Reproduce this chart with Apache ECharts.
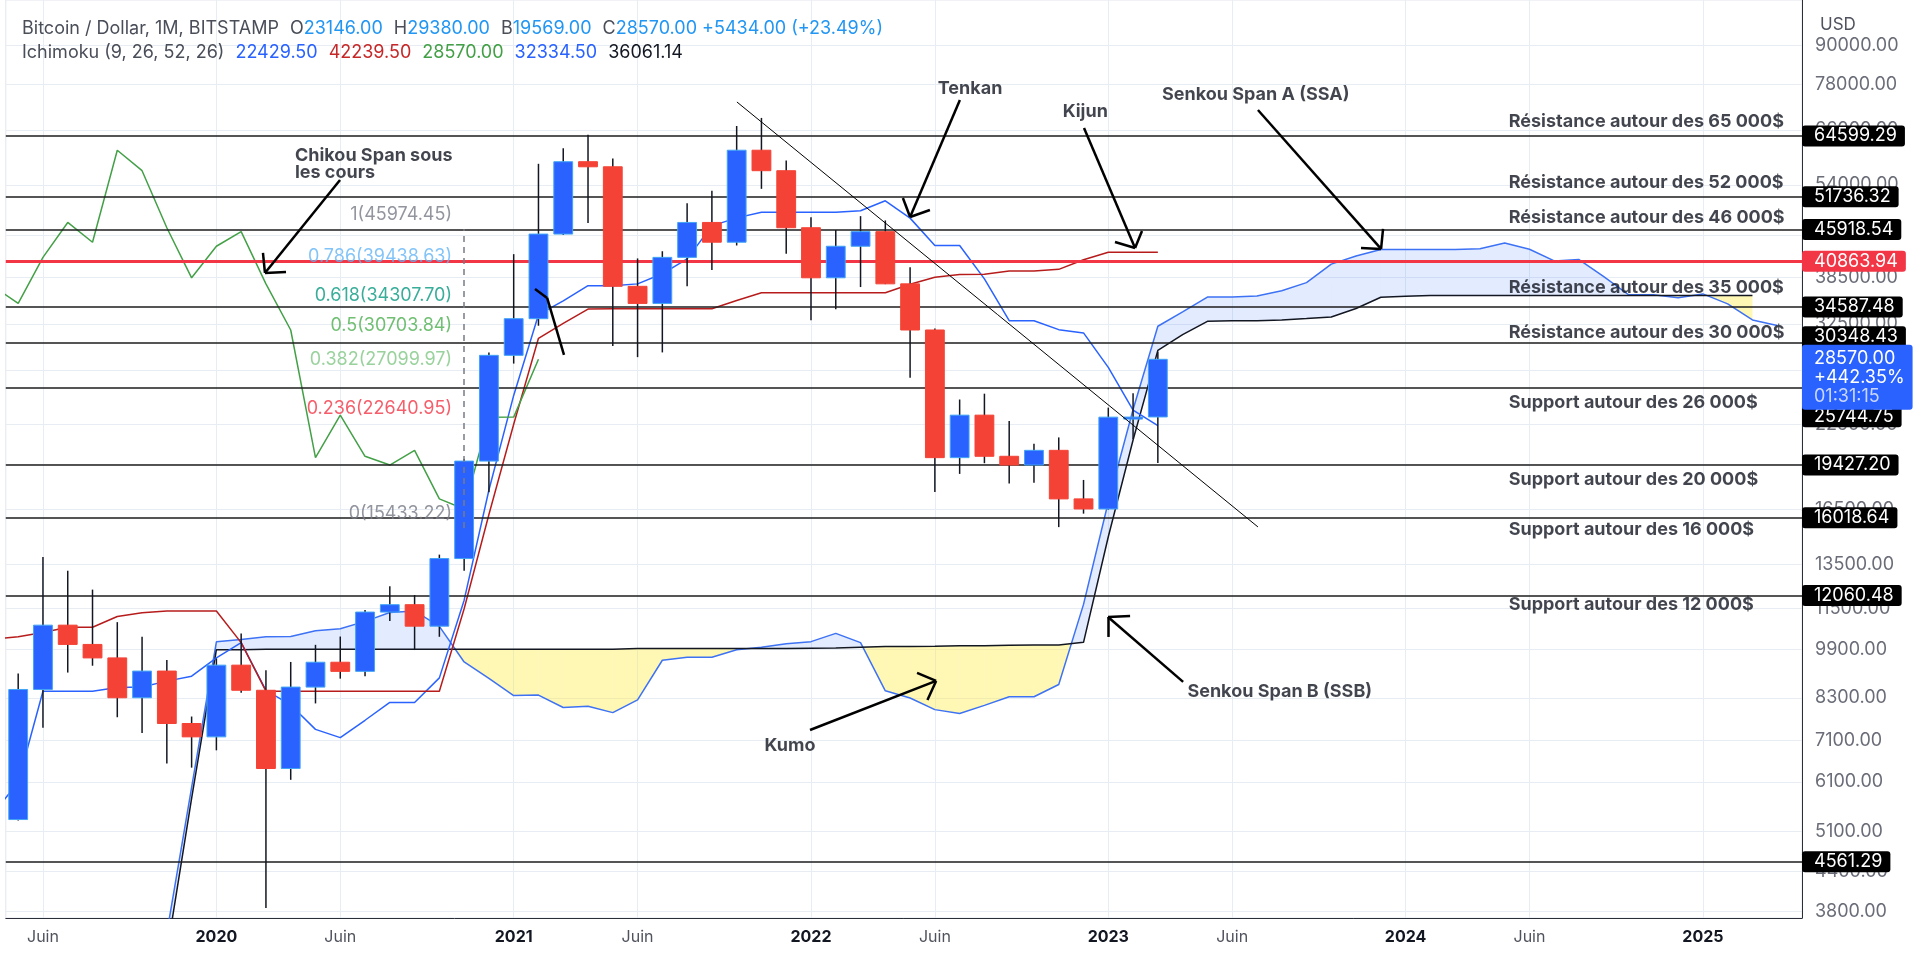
<!DOCTYPE html>
<html>
<head>
<meta charset="utf-8">
<title>Bitcoin / Dollar - Ichimoku</title>
<script src="https://cdn.jsdelivr.net/npm/echarts@6/dist/echarts.min.js"></script>
<style>
  html, body { margin: 0; padding: 0; background: #fff; }
  #chart { width: 1920px; height: 967px; }
</style>
</head>
<body>
<div id="chart"></div>
<script>
// monthly candles, index 0 = May 2019 ... 46 = Mar 2023
const opens = [5320, 8555, 10820, 10085, 9600, 8300, 9150, 7555, 7195, 9350, 8530, 6410, 8630, 9450, 9140, 11350, 11660, 10780, 13800, 19700, 28990, 33140, 45140, 58800, 57720, 37300, 35040, 41460, 47100, 43820, 61320, 56900, 46200, 38480, 43180, 45540, 37640, 31800, 19950, 23300, 20050, 19420, 20490, 17160, 16540, 23130, 23146]
const highs = [9070, 13880, 13200, 12320, 10940, 10370, 9530, 7750, 9580, 10500, 9180, 9460, 10070, 10380, 11440, 12470, 12080, 14000, 19860, 29300, 41950, 58350, 61780, 64900, 59500, 41300, 42400, 50500, 52900, 66990, 69000, 59050, 47990, 45800, 48200, 47450, 40000, 31980, 24670, 25200, 22800, 20990, 21480, 18390, 23950, 25250, 29380]
const lows = [5300, 7440, 9100, 9330, 7730, 7300, 6530, 6430, 6850, 8450, 3850, 6150, 8130, 8900, 8980, 10990, 9880, 10370, 13200, 17580, 28130, 32300, 45000, 47000, 30000, 28800, 29300, 37300, 39600, 43300, 53250, 42000, 32950, 34300, 37200, 37600, 26700, 17600, 18800, 19550, 18150, 18200, 15480, 16260, 16500, 21350, 19569]
const closes = [8555, 10820, 10085, 9600, 8300, 9150, 7555, 7195, 9350, 8530, 6410, 8630, 9450, 9140, 11350, 11660, 10780, 13800, 19700, 28990, 33140, 45140, 58800, 57720, 37300, 35040, 41460, 47100, 43820, 61320, 56900, 46200, 38480, 43180, 45540, 37640, 31800, 19950, 23300, 20050, 19420, 20490, 17160, 16540, 23130, 23136, 28570]

// ichimoku lines (tenkan / kijun / chikou start at index -1 = Apr 2019)
const lineStart = -1
const tenkan = [5441, 6096, 8501, 8501, 8501, 8615, 8635, 8820, 8980, 9605, 10155, 8525, 8085, 7395, 7175, 7645, 8160, 8160, 8925, 11855, 17725, 25040, 33625, 35380, 37390, 37390, 37635, 39050, 41240, 46515, 47895, 48900, 48900, 48900, 48900, 49150, 50975, 47850, 43300, 43300, 38325, 32900, 32900, 31840, 31465, 27740, 23730, 22429.5]
const kijun = [10280, 10375, 10535, 10740, 10740, 11170, 11320, 11396, 11396, 11396, 10151, 8501, 8501, 8501, 8501, 8501, 8501, 8501, 8501, 11491, 16211, 22536, 30850, 32585, 34330, 34375, 34375, 34375, 34375, 34375, 35420, 36425, 36425, 36425, 36425, 36425, 36425, 37575, 38565, 38950, 38990, 39440, 39440, 39685, 41100, 42239.5, 42239.5, 42239.5]
const chikou = [37300, 35040, 41460, 47100, 43820, 61320, 56900, 46200, 38480, 43180, 45540, 37640, 31800, 19950, 23300, 20050, 19420, 20490, 17160, 16540, 23130, 23136, 28570]
// senkou spans, index 0 = May 2019 ... 71 = Apr 2025
const senkouA = [885, 1576, 1695, 1714, 2624, 2726, 3514, 5981, 10180, 10272, 10375, 10379, 10603, 10679, 10972, 11331, 11396, 10773, 9458, 8906, 8366, 8381, 8011, 8046, 7861, 8236, 9518, 9621, 9621, 9893, 9978, 10108, 10188, 10501, 10153, 8513, 8293, 7948, 7838, 8073, 8331, 8331, 8713, 11673, 16968, 23788, 32238, 33983, 35860, 35883, 36005, 36713, 37808, 40445, 41658, 42663, 42663, 42663, 42663, 42788, 43700, 42713, 40933, 41125, 38658, 36170, 36170, 35763, 36283, 34990, 32985, 32334.5]
const senkouB = [726, 1390, 1512, 1520, 2423, 2523, 3268, 5746, 9894, 9895, 9911, 9911, 9911, 9911, 9911, 9911, 9911, 9911, 9911, 9911, 9911, 9911, 9911, 9911, 9911, 9933, 9933, 9933, 9933, 9933, 9933, 9933, 9948, 9952, 9985, 10008, 10010, 10018, 10035, 10038, 10054, 10067, 10067, 10162, 14945, 21278, 29515, 31260, 32825, 32895, 32895, 32990, 33150, 33355, 34400, 35835, 35985, 36061.14, 36061.14, 36061.14, 36061.14, 36061.14, 36061.14, 36061.14, 36061.14, 36061.14, 36061.14, 36061.14, 36061.14, 36061.14, 36061.14]

// x axis labels
const xTickIdx = [1, 8, 13, 20, 25, 32, 37, 44, 49, 56, 61, 68]
const xTickLabels = ['Juin', '2020', 'Juin', '2021', 'Juin', '2022', 'Juin', '2023', 'Juin', '2024', 'Juin', '2025']
// price scale labels
const yTicks = [90000, 78000, 66000, 54000, 45000, 38500, 32500, 27500, 22500, 19500, 16500, 13500, 11500, 9900, 8300, 7100, 6100, 5100, 4400, 3800]

// horizontal levels
const levels = [64599.29, 51736.32, 45918.54, 34587.48, 30348.43, 25744.75, 19427.20, 16018.64, 12060.48, 4561.29]
const keyLevel = 40863.94
const lastChangePct = '+442.35%'
const countdown = '01:31:15'

// fibonacci retracement
const fibRatios = ['1', '0.786', '0.618', '0.5', '0.382', '0.236', '0']
const fibPrices = [45974.45, 39438.63, 34307.70, 30703.84, 27099.97, 22640.95, 15433.22]
const fibAt = 18

// text drawings, anchored at [month index, price]
const levelNotes = [
  ['Résistance autour des 65 000$', 67980],
  ['Résistance autour des 52 000$', 54400],
  ['Résistance autour des 46 000$', 47880],
  ['Résistance autour des 35 000$', 37080],
  ['Résistance autour des 30 000$', 31460],
  ['Support autour des 26 000$', 24360],
  ['Support autour des 20 000$', 18390],
  ['Support autour des 16 000$', 15320],
  ['Support autour des 12 000$', 11650]
]
const levelNoteAt = 60.16
const notes = [
  { text: 'Tenkan', at: [38.42, 76700], align: 'center' },
  { text: 'Kijun', at: [43.07, 70510], align: 'center' },
  { text: 'Senkou Span A (SSA)', at: [49.95, 75030], align: 'center' },
  { text: 'Senkou Span B (SSB)', at: [50.92, 8480], align: 'center' },
  { text: 'Kumo', at: [31.15, 6960], align: 'center' },
  { text: 'Chikou Span sous\nles cours', at: [11.17, 58300], align: 'left' }
]
const arrows = [
  { from: [12.99, 55006], to: [9.96, 39163], arms: [[9.88, 42134], [10.81, 39307]] },
  { from: [38.01, 73675], to: [36.00, 48055], arms: [[35.71, 51510], [36.80, 49294]] },
  { from: [43.02, 66508], to: [45.08, 42906], arms: [[44.27, 43863], [45.36, 45660]] },
  { from: [50.04, 71034], to: [55.01, 42756], arms: [[54.20, 42906], [55.09, 45989]] },
  { from: [47.02, 8795], to: [43.99, 11148], arms: [[43.99, 10364], [44.88, 11190]] },
  { from: [31.96, 7377], to: [37.05, 8826], arms: [[36.28, 9088], [36.70, 8234]] },
  { from: [22.03, 29033], to: [21.35, 35748], arms: [[20.86, 36940]] }
]
const trendLine = [[29.01, 73136], [50.04, 15490]]

const FONT = 'Inter, "Noto Sans", sans-serif'
const upColor = '#2962ff'
const downColor = '#f44336'
const cloudUp = 'rgba(41, 98, 255, 0.13)'
const cloudDown = 'rgba(255, 235, 59, 0.38)'
const fibColors = ['#787b86', '#64b5f6', '#089981', '#4caf50', '#81c784', '#f23645', '#787b86']
const tagNudge = { 30348.43: -6, 25744.75: 29 }

const chart = echarts.init(document.getElementById('chart'))

function renderCandle(params, api) {
  const x = api.value(0)
  const o = api.value(1), h = api.value(2), l = api.value(3), c = api.value(4)
  const top = api.coord([x, h])
  const bot = api.coord([x, l])
  const po = api.coord([x, o])
  const pc = api.coord([x, c])
  const w = api.size([1, 0], [x, c])[0] * 0.76
  const up = c >= o
  const y0 = Math.min(po[1], pc[1])
  const hgt = Math.max(Math.abs(po[1] - pc[1]), 2)
  return {
    type: 'group',
    children: [
      { type: 'line', shape: { x1: top[0], y1: top[1], x2: bot[0], y2: bot[1] }, style: { stroke: '#131722', lineWidth: 1.5 } },
      { type: 'rect', shape: { x: top[0] - w / 2, y: y0, width: w, height: hgt },
        style: { fill: up ? upColor : downColor, stroke: up ? '#42a5f5' : downColor, lineWidth: 1 } }
    ]
  }
}

function renderCloud(params, api) {
  const d = api.value(0)
  const sa0 = api.value(1), sb0 = api.value(2), sa1 = api.value(3), sb1 = api.value(4)
  const a0 = api.coord([d, sa0]), b0 = api.coord([d, sb0])
  const a1 = api.coord([d + 1, sa1]), b1 = api.coord([d + 1, sb1])
  const s0 = sa0 - sb0, s1 = sa1 - sb1
  const col = s => (s >= 0 ? cloudUp : cloudDown)
  const poly = (pts, fill) => ({ type: 'polygon', shape: { points: pts }, style: { fill: fill } })
  if (s0 * s1 >= 0) {
    return { type: 'group', children: [poly([a0, a1, b1, b0], col(s0 !== 0 ? s0 : s1))] }
  }
  const g0 = a0[1] - b0[1], g1 = a1[1] - b1[1]
  const t = g0 / (g0 - g1)
  const p = [a0[0] + t * (a1[0] - a0[0]), a0[1] + t * (a1[1] - a0[1])]
  return { type: 'group', children: [poly([a0, p, b0], col(s0)), poly([p, a1, b1], col(s1))] }
}

const candleData = opens.map((o, i) => [i, o, highs[i], lows[i], closes[i]])
const cloudData = senkouA.slice(0, -1).map((v, i) => [i, v, senkouB[i], senkouA[i + 1], senkouB[i + 1]])
const shifted = (arr, start) => arr.map((v, i) => [i + start, v])

function ichiLine(name, data, color, width) {
  return {
    name: name, type: 'line', data: data, z: 2, symbol: 'none', showSymbol: false,
    lineStyle: { color: color, width: width || 1.5 }, silent: true
  }
}

const arrowSegments = []
arrows.forEach(a => {
  arrowSegments.push([{ coord: a.from }, { coord: a.to }])
  a.arms.forEach(arm => arrowSegments.push([{ coord: arm }, { coord: a.to }]))
})

const last = closes.length - 1
const change = closes[last] - closes[last - 1]
const changePct = change / closes[last - 1] * 100

const richBase = { fontSize: 18, lineHeight: 24, fontFamily: FONT }
const rich = (color, extra) => Object.assign({ color: color }, richBase, extra || {})

const option = {
  animation: false,
  backgroundColor: '#ffffff',
  textStyle: { fontFamily: FONT },
  title: [
    {
      left: 17, top: 12,
      text:
        '{n|Bitcoin / Dollar, 1M, BITSTAMP} {k|O}{v|' + opens[last].toFixed(2) + '} {k|H}{v|' + highs[last].toFixed(2) +
        '} {k|B}{v|' + lows[last].toFixed(2) + '} {k|C}{v|' + closes[last].toFixed(2) + '} {v|+' + change.toFixed(2) +
        ' (+' + changePct.toFixed(2) + '%)}\n' +
        '{n|Ichimoku (9, 26, 52, 26)}{tb|' + tenkan[tenkan.length - 1].toFixed(2) + '}{kr|' + kijun[kijun.length - 1].toFixed(2) +
        '}{cg|' + chikou[chikou.length - 1].toFixed(2) + '}{sa|' + senkouA[senkouA.length - 1].toFixed(2) +
        '}{sb|' + senkouB[senkouB.length - 1].toFixed(2) + '}',
      textStyle: {
        fontFamily: FONT, fontSize: 18, fontWeight: 'normal',
        rich: {
          n: rich('#4a4e59'),
          k: rich('#4a4e59', { padding: [0, 0, 0, 6] }),
          v: rich('#2196f3'),
          tb: rich('#2962ff', { padding: [0, 0, 0, 11] }),
          kr: rich('#c62828', { padding: [0, 0, 0, 11] }),
          cg: rich('#43a047', { padding: [0, 0, 0, 11] }),
          sa: rich('#2962ff', { padding: [0, 0, 0, 11] }),
          sb: rich('#131722', { padding: [0, 0, 0, 11] })
        }
      }
    },
    {
      left: 1815, top: 11, text: 'USD',
      textStyle: { fontFamily: FONT, fontSize: 17, fontWeight: 'normal', color: '#50535e' }
    }
  ],
  grid: {
    left: 5.8, right: 118, top: 0, bottom: 49,
    show: true, borderColor: '#e3e6ee', borderWidth: 1, backgroundColor: 'transparent'
  },
  xAxis: {
    type: 'value', min: -0.5, max: 72,
    axisLine: { show: true, onZero: false, lineStyle: { color: '#2a2e39', width: 1 } },
    axisTick: { show: false, customValues: xTickIdx },
    splitLine: { show: true, lineStyle: { color: '#e6edf5', width: 1 } },
    axisLabel: {
      customValues: xTickIdx,
      margin: 11,
      formatter: v => {
        const t = xTickLabels[xTickIdx.indexOf(Math.round(v))] || ''
        return /^\d/.test(t) ? '{y|' + t + '}' : '{m|' + t + '}'
      },
      rich: {
        y: { color: '#131722', fontSize: 16, fontWeight: 'bold', fontFamily: FONT },
        m: { color: '#50535e', fontSize: 16, fontFamily: FONT }
      }
    }
  },
  yAxis: {
    type: 'log', logBase: 10, min: 3713, max: 106140, position: 'right',
    axisLine: { show: true, onZero: false, lineStyle: { color: '#2a2e39', width: 1 } },
    axisTick: { show: false },
    axisLabel: { show: false },
    splitLine: { show: false }
  },
  series: [
    {
      name: 'price scale', type: 'line', data: [], silent: true,
      markLine: {
        z: 0, silent: true, symbol: 'none', animation: false,
        lineStyle: { color: '#e8edf4', width: 1, type: 'solid' },
        label: {
          position: 'end', distance: 13, color: '#6a6d78', fontSize: 18, fontFamily: FONT,
          formatter: p => Number(p.value).toFixed(2)
        },
        data: yTicks.map(v => ({ yAxis: v }))
      }
    },
    {
      name: 'kumo', type: 'custom', z: 1, clip: true, silent: true,
      renderItem: renderCloud, data: cloudData, encode: { x: 0, y: 1 }
    },
    ichiLine('Senkou Span A', shifted(senkouA, 0), '#3d72f5', 1.5),
    ichiLine('Senkou Span B', shifted(senkouB, 0), '#131722', 1.5),
    ichiLine('Tenkan', shifted(tenkan, lineStart), '#2962ff', 1.5),
    ichiLine('Kijun', shifted(kijun, lineStart), '#b71c1c', 1.5),
    ichiLine('Chikou', shifted(chikou, lineStart), '#43a047', 1.5),
    {
      name: 'levels', type: 'line', data: [], silent: true,
      markLine: {
        z: 3, silent: true, symbol: 'none', animation: false,
        lineStyle: { color: '#1c1c1c', width: 1.5, type: 'solid' },
        label: {
          position: 'end', distance: 0, color: '#ffffff', backgroundColor: '#000000', opacity: 1,
          fontSize: 18, lineHeight: 18, fontFamily: FONT, padding: [2, 8, 1, 12], borderRadius: 3,
          formatter: p => Number(p.value).toFixed(2)
        },
        data: levels.map(v => ({ yAxis: v, label: { offset: [0, tagNudge[v] || 0] } })).concat([
          { yAxis: keyLevel, lineStyle: { color: '#f23645', width: 3 }, label: { backgroundColor: '#f23645' } },
          {
            yAxis: closes[last], lineStyle: { width: 0, color: 'rgba(0,0,0,0)' },
            label: {
              opacity: 1, backgroundColor: '#2962ff', padding: [4, 8, 4, 12], offset: [0, 18],
              formatter: p => '{a|' + closes[last].toFixed(2) + '}\n{a|' + lastChangePct + '}\n{t|' + countdown + '}',
              rich: {
                a: { color: '#ffffff', fontSize: 18, lineHeight: 19, fontFamily: FONT },
                t: { color: '#c9d6ff', fontSize: 18, lineHeight: 19, fontFamily: FONT }
              }
            }
          }
        ])
      }
    },
    {
      name: 'BTCUSD', type: 'custom', z: 4, clip: true, silent: true,
      renderItem: renderCandle, data: candleData, encode: { x: 0, y: [1, 2, 3, 4] }
    },
    {
      name: 'drawings', type: 'line', data: [], silent: true,
      markLine: {
        z: 6, silent: true, symbol: 'none', animation: false,
        label: { show: false },
        lineStyle: { color: '#000000', width: 2.5, type: 'solid' },
        data: arrowSegments.concat([
          [{ coord: trendLine[0], lineStyle: { width: 1 } }, { coord: trendLine[1] }],
          [{ coord: [fibAt, fibPrices[fibPrices.length - 1]], lineStyle: { width: 1.5, color: '#787b86', type: [6, 5] } },
           { coord: [fibAt, fibPrices[0]] }]
        ])
      }
    },
    {
      name: 'notes', type: 'scatter', z: 7, symbolSize: 0, silent: true,
      label: {
        show: true, position: [0, 0], verticalAlign: 'middle',
        color: '#131722', fontSize: 18, fontWeight: 'bold', fontFamily: FONT, lineHeight: 17
      },
      data: notes.map(n => ({ value: n.at, label: { formatter: n.text, align: n.align } }))
        .concat(levelNotes.map(n => ({ value: [levelNoteAt, n[1]], label: { formatter: n[0], align: 'left' } })))
    },
    {
      name: 'fib labels', type: 'scatter', z: 7, symbolSize: 0, silent: true,
      label: { show: true, position: [0, 0], align: 'right', verticalAlign: 'middle', offset: [0, -14], fontSize: 18, fontFamily: FONT },
      data: fibPrices.map((p, i) => ({
        value: [fibAt - 0.49, p],
        label: { formatter: fibRatios[i] + '(' + p.toFixed(2) + ')', color: fibColors[i] }
      }))
    }
  ]
}

chart.setOption(option)
</script>
</body>
</html>
